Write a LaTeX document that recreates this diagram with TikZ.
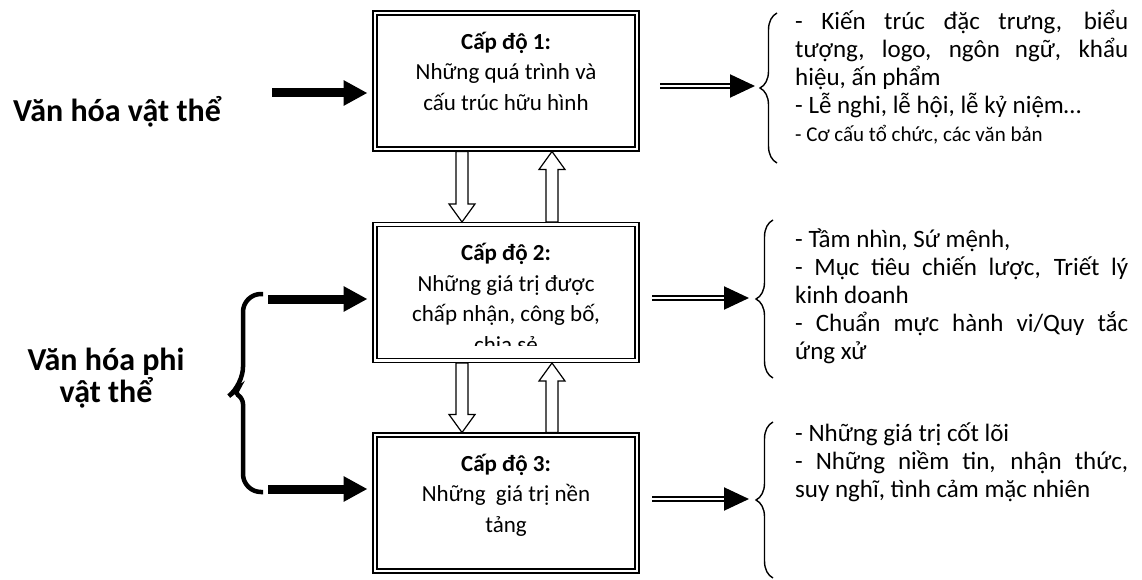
\documentclass[tikz,border=0pt]{standalone}
\usepackage{fontspec}
\setmainfont{Carlito}
\usetikzlibrary{arrows.meta,calc,positioning,decorations.pathreplacing}
\tikzset{level box/.style={draw,double,double distance=2.5pt,line width=1.3pt,minimum width=262pt,minimum height=136pt,inner sep=0pt,outer sep=2.5pt},
         box text/.style={align=center,font=\fontsize{23}{30.5}\selectfont,inner sep=0pt},
         side text/.style={text width=333pt,align=flush left,font=\fontsize{25}{28}\selectfont,inner sep=0pt,anchor=north west},
         left label/.style={align=center,font=\fontsize{32}{32}\selectfont\bfseries,inner sep=0pt},
         big arrow/.style={line width=9pt,-{Triangle[width=24pt,length=24pt]},shorten >=5pt},
         out arrow/.style={double,double distance=2pt,line width=2pt,-{Triangle[width=23pt,length=25pt]}},
         thin brace/.style={decorate,decoration={brace,amplitude=17pt},line width=1.4pt},
         fat brace/.style={line width=4.5pt},
         hollow/.style={draw,fill=white,line width=1.2pt}
}
% hollow block arrow from #1 (tail) to #2 (tip), vertical only
\newcommand{\hollowarrow}[2]{%
  \draw[hollow] let \p1=(#1), \p2=(#2), \p3=($(#2)!18pt!(#1)$) in
    (\x1-6pt,\y1) -- (\x3-6pt,\y3) -- (\x3-13pt,\y3) -- (\x2,\y2)
    -- (\x3+13pt,\y3) -- (\x3+6pt,\y3) -- (\x1+6pt,\y1) -- cycle;}

\begin{document}
\begin{tikzpicture}[x=1pt,y=1pt]
\useasboundingbox (0,0) rectangle (1142,-580);

% the three levels
\node[level box] (b1) at (506,-81) {};
\node[level box] (b2) at (506,-292.5) {};
\node[level box] (b3) at (506,-503) {};

\node[box text, below=21pt of b1.north] (t1) {\textbf{Cấp độ 1:}\\Những quá trình và\\cấu trúc hữu hình};
\begin{scope}
\clip (b2.north west) rectangle ([yshift=18pt]b2.south east);
\node[box text, below=21pt of b2.north] (t2) {\textbf{Cấp độ 2:}\\Những giá trị được\\chấp nhận, công bố,\\chia sẻ};
\end{scope}
\node[box text, below=21pt of b3.north] (t3) {\textbf{Cấp độ 3:}\\Những\ \ giá trị nền\\tảng};

% arrows between levels
\coordinate (d1) at ([xshift=-44pt]b1.south);
\coordinate (d2) at ([xshift=-44pt]b2.north);
\coordinate (u1) at ([xshift=46pt]b2.north);
\coordinate (u2) at ([xshift=46pt]b1.south);
\coordinate (d3) at ([xshift=-44pt]b2.south);
\coordinate (d4) at ([xshift=-44pt]b3.north);
\coordinate (u3) at ([xshift=46pt]b3.north);
\coordinate (u4) at ([xshift=46pt]b2.south);
\hollowarrow{d1}{d2}
\hollowarrow{u1}{u2}
\hollowarrow{d3}{d4}
\hollowarrow{u3}{u4}

% left side
\node[left label] (vh) at (117,-112) {Văn hóa vật thể};
\node[left label] (vhp) at (106,-378) {Văn hóa phi\\vật thể};

\coordinate (in1) at (272,-93);
\coordinate (in2) at (268,-299);
\coordinate (in3) at (268,-489);
\draw[big arrow] (in1) -- (in1 -| b1.west);
\draw[big arrow] (in2) -- (in2 -| b2.west);
\draw[big arrow] (in3) -- (in3 -| b3.west);

\draw[fat brace] (263,-294) [rounded corners=18pt] -- (243,-294) -- (243,-385)
  [rounded corners=5pt] -- (234,-392) -- (243,-399)
  [rounded corners=18pt] -- (243,-492) -- (263,-492);

% right side
\draw[thin brace] (777,-163) -- (777,-13);
\draw[thin brace] (773,-378) -- (773,-220);
\draw[thin brace] (773,-578) -- (773,-422);

\coordinate (o1) at (660,-86);
\coordinate (k1) at (755,-86);
\coordinate (o2) at (652,-298);
\coordinate (k2) at (749,-298);
\coordinate (o3) at (652,-499);
\coordinate (k3) at (749,-499);
\draw[out arrow] (o1) -- (k1);
\draw[out arrow] (o2) -- (k2);
\draw[out arrow] (o3) -- (k3);

\node[side text] (r1) at (795,-10) {%
\makebox[\linewidth][s]{- Kiến trúc đặc trưng, biểu}\\
\makebox[\linewidth][s]{tượng, logo, ngôn ngữ, khẩu}\\
hiệu, ấn phẩm\\
- Lễ nghi, lễ hội, lễ kỷ niệm…\\
{\fontsize{21}{28}\selectfont - Cơ cấu tổ chức, các văn bản}};
\node[side text] (r2) at (795,-229) {%
- Tầm nhìn, Sứ mệnh,\\
\makebox[\linewidth][s]{- Mục tiêu chiến lược, Triết lý}\\
kinh doanh\\
\makebox[\linewidth][s]{- Chuẩn mực hành vi/Quy tắc}\\
ứng xử};
\node[side text] (r3) at (795,-423) {%
- Những giá trị cốt lõi\\
\makebox[\linewidth][s]{- Những niềm tin, nhận thức,}\\
suy nghĩ, tình cảm mặc nhiên};
\end{tikzpicture}
\end{document}
